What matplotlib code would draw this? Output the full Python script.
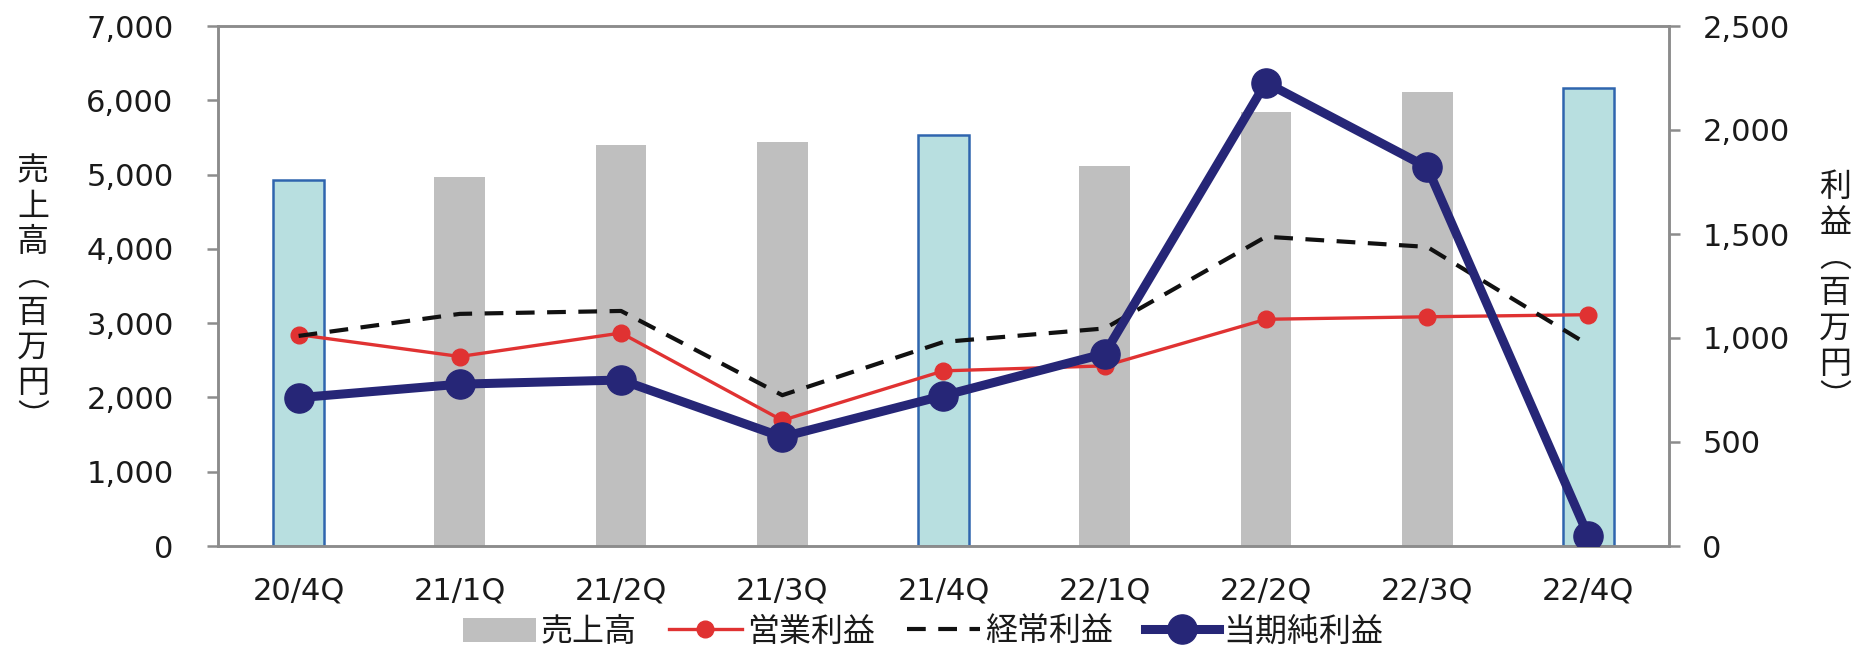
import matplotlib
matplotlib.use("Agg")
import matplotlib.pyplot as plt
from matplotlib.patches import Patch
from matplotlib.lines import Line2D

plt.rcParams['font.family'] = ['DejaVu Sans', 'Noto Sans CJK JP']

categories = ["20/4Q", "21/1Q", "21/2Q", "21/3Q", "21/4Q", "22/1Q", "22/2Q", "22/3Q", "22/4Q"]
sales = [4925, 4970, 5400, 5440, 5535, 5120, 5845, 6105, 6165]
operating_profit = [1016, 911, 1024, 604, 842, 866, 1090, 1102, 1112]
ordinary_profit = [1010, 1116, 1130, 725, 981, 1046, 1487, 1438, 967]
net_profit = [713, 778, 798, 524, 723, 925, 2228, 1821, 48]
highlight = [True, False, False, False, True, False, False, False, True]

left_ticks = [0, 1000, 2000, 3000, 4000, 5000, 6000, 7000]
right_ticks = [0, 500, 1000, 1500, 2000, 2500]

GRAY = "#BFBFBF"
CYAN = "#B8DFE0"
EDGE = "#2F65AE"
RED = "#E03232"
NAVY = "#262677"
TXT = "#1a1a1a"
AX = "#8c8c8c"
JP = ['Noto Sans CJK JP', 'DejaVu Sans']

fig = plt.figure(figsize=(18.56, 6.48), dpi=100)
ax = fig.add_axes([218/1856, 1-546/648, (1669-218)/1856, (546-26)/648])
ax2 = ax.twinx()

x = list(range(len(categories)))
for i, v in enumerate(sales):
    if highlight[i]:
        ax.bar(i, v, width=0.315, color=CYAN, edgecolor=EDGE, linewidth=1.8, zorder=2)
    else:
        ax.bar(i, v, width=0.315, color=GRAY, edgecolor='none', zorder=2)

ax.set_xlim(-0.5, len(categories) - 0.5)
ax.set_ylim(0, 7000)
ax.set_yticks(left_ticks)
ax.set_yticklabels([f"{t:,}" for t in left_ticks])
ax.set_xticks(x)
ax.set_xticklabels(categories)

ax2.set_ylim(0, 2500)
ax2.set_yticks(right_ticks)
ax2.set_yticklabels([f"{t:,}" for t in right_ticks])

ax2.plot(x, operating_profit, color=RED, lw=2.4, marker='o', markersize=12, zorder=3)
ax2.plot(x, ordinary_profit, color='#111111', lw=3, dashes=(4.5, 3), zorder=4)
ax2.plot(x, net_profit, color=NAVY, lw=6.5, marker='o', markersize=21, zorder=5)

for a in (ax, ax2):
    for s in a.spines.values():
        s.set_color(AX)
        s.set_linewidth(1.8)
ax.tick_params(axis='y', length=8, width=1.8, color=AX, pad=24, labelsize=22, labelcolor=TXT)
ax.tick_params(axis='x', length=0, pad=22, labelsize=22, labelcolor=TXT)
ax2.tick_params(axis='y', length=8, width=1.8, color=AX, pad=16, labelsize=22, labelcolor=TXT)

ax.set_zorder(1)
ax2.set_zorder(2)
ax.patch.set_visible(False)

# vertical stacked axis titles
fig.text(33/1856, 1-295/648, "\n".join("売上高︵百万円︶"), family=JP, fontsize=23,
         color=TXT, ha='center', va='center', linespacing=1.13)
fig.text(1835/1856, 1-293/648, "\n".join("利益︵百万円︶"), family=JP, fontsize=23,
         color=TXT, ha='center', va='center', linespacing=1.13)

handles = [
    Patch(facecolor=GRAY, edgecolor='none'),
    Line2D([], [], color=RED, lw=2.4, marker='o', markersize=12),
    Line2D([], [], color='#111111', lw=3, dashes=(4.5, 3)),
    Line2D([], [], color=NAVY, lw=6.5, marker='o', markersize=21),
]
labels = ["売上高", "営業利益", "経常利益", "当期純利益"]
fig.legend(handles, labels, loc='center', bbox_to_anchor=(923/1856, 1-632/648), ncol=4,
           frameon=False, prop={'family': JP, 'size': 23}, handlelength=2.3,
           handleheight=0.8, handletextpad=0.15, columnspacing=1.0, borderpad=0,
           labelcolor=TXT)

fig.savefig("out.png", dpi=100)
